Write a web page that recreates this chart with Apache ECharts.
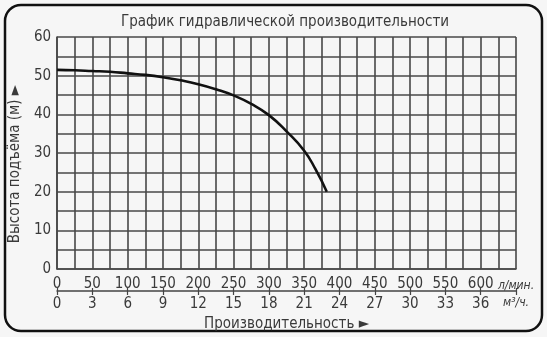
<!DOCTYPE html>
<html>
<head>
<meta charset="utf-8">
<script src="https://cdn.jsdelivr.net/npm/echarts@6/dist/echarts.min.js"></script>
<style>
html,body{margin:0;padding:0;background:#f6f6f6;}
#c{width:547px;height:337px;}
</style>
</head>
<body>
<div id="c"></div>
<script>
// ---- data ----
const flowLpm = [0, 25, 50, 75, 100, 125, 150, 175, 200, 225, 250, 275, 300, 325, 350, 366, 382];
const headM   = [51.5, 51.4, 51.2, 51.0, 50.6, 50.2, 49.6, 48.8, 47.8, 46.5, 44.9, 42.7, 39.8, 35.6, 30.6, 25.8, 20.0];
const lpmTicks = ['0','50','100','150','200','250','300','350','400','450','500','550','600'];
const m3hTicks = ['0','3','6','9','12','15','18','21','24','27','30','33','36'];
const headTicks = ['0','10','20','30','40','50','60'];
const titleText = 'График гидравлической производительности';
const xName = 'Производительность ►';
const yName = 'Высота подъёма (м) ►';
const lpmUnit = 'л/мин.';
const m3hUnit = 'м³/ч.';

const FONT = '"DejaVu Sans Condensed", "Liberation Sans", sans-serif';
const TXT = '#3a3a3a';
const GRIDC = '#484848';

const seriesData = flowLpm.map((x, i) => [x, headM[i]]);

function labelFmt(ticks, unit) {
  return function (v) {
    const i = Math.round(v / 50);
    if (v % 50 === 0 && i < ticks.length) return ticks[i];
    if (v === 650) return '{u|' + unit + '}';
    return '';
  };
}

const chart = echarts.init(document.getElementById('c'), null, {renderer: 'canvas'});
chart.setOption({
  backgroundColor: '#f6f6f6',
  animation: false,
  title: {
    text: titleText,
    left: 280, top: 10, textAlign: 'center',
    textStyle: {fontFamily: FONT, fontSize: 15, fontWeight: 'normal', color: TXT}
  },
  graphic: [{
    type: 'rect',
    shape: {x: 5, y: 5, width: 537, height: 326, r: 16},
    style: {fill: 'none', stroke: '#111', lineWidth: 2.5},
    silent: true
  }],
  grid: {left: 54, right: 31, top: 37, bottom: 68},
  xAxis: [{
    type: 'value', min: 0, max: 650, interval: 25,
    axisLine: {show: true, lineStyle: {color: GRIDC, width: 1.6}},
    axisTick: {show: false},
    axisLabel: {show: false},
    splitLine: {show: true, lineStyle: {color: GRIDC, width: 1.6}}
  }, {
    type: 'value', min: 0, max: 650, interval: 50, position: 'bottom', offset: 22,
    axisLine: {show: false},
    axisTick: {show: true, inside: true, length: 3, lineStyle: {color: '#444', width: 1.2}},
    axisLabel: {
      inside: true, margin: -1, fontFamily: FONT, fontSize: 15, color: TXT,
      formatter: labelFmt(lpmTicks, lpmUnit),
      rich: {u: {fontFamily: FONT, fontSize: 12, fontStyle: 'italic', color: TXT}}
    },
    splitLine: {show: false}
  }, {
    type: 'value', min: 0, max: 650, interval: 50, position: 'bottom', offset: 22,
    axisLine: {show: true, lineStyle: {color: '#444', width: 1.5}},
    axisTick: {show: true, inside: false, length: 4, lineStyle: {color: '#444', width: 1.2}},
    axisLabel: {
      margin: 6, fontFamily: FONT, fontSize: 15, color: TXT,
      formatter: labelFmt(m3hTicks, m3hUnit),
      rich: {u: {fontFamily: FONT, fontSize: 12, fontStyle: 'italic', color: TXT}}
    },
    splitLine: {show: false},
    name: xName, nameLocation: 'middle', nameGap: 26,
    nameTextStyle: {fontFamily: FONT, fontSize: 15, color: TXT}
  }],
  yAxis: {
    type: 'value', min: 0, max: 60, interval: 5,
    axisLine: {show: true, lineStyle: {color: GRIDC, width: 1.6}},
    axisTick: {show: false},
    axisLabel: {
      margin: 6, fontFamily: FONT, fontSize: 15, color: TXT,
      formatter: function (v) { return v % 10 === 0 ? headTicks[v / 10] : ''; }
    },
    splitLine: {show: true, lineStyle: {color: GRIDC, width: 1.6}},
    name: yName, nameLocation: 'middle', nameGap: 25, nameRotate: 90,
    nameTextStyle: {fontFamily: FONT, fontSize: 15, color: TXT, padding: [0, 22, 0, 0]}
  },
  series: [{
    type: 'line', xAxisIndex: 0, data: seriesData,
    smooth: 0.5, showSymbol: false,
    lineStyle: {color: '#111', width: 2.6}
  }]
});
</script>
</body>
</html>
